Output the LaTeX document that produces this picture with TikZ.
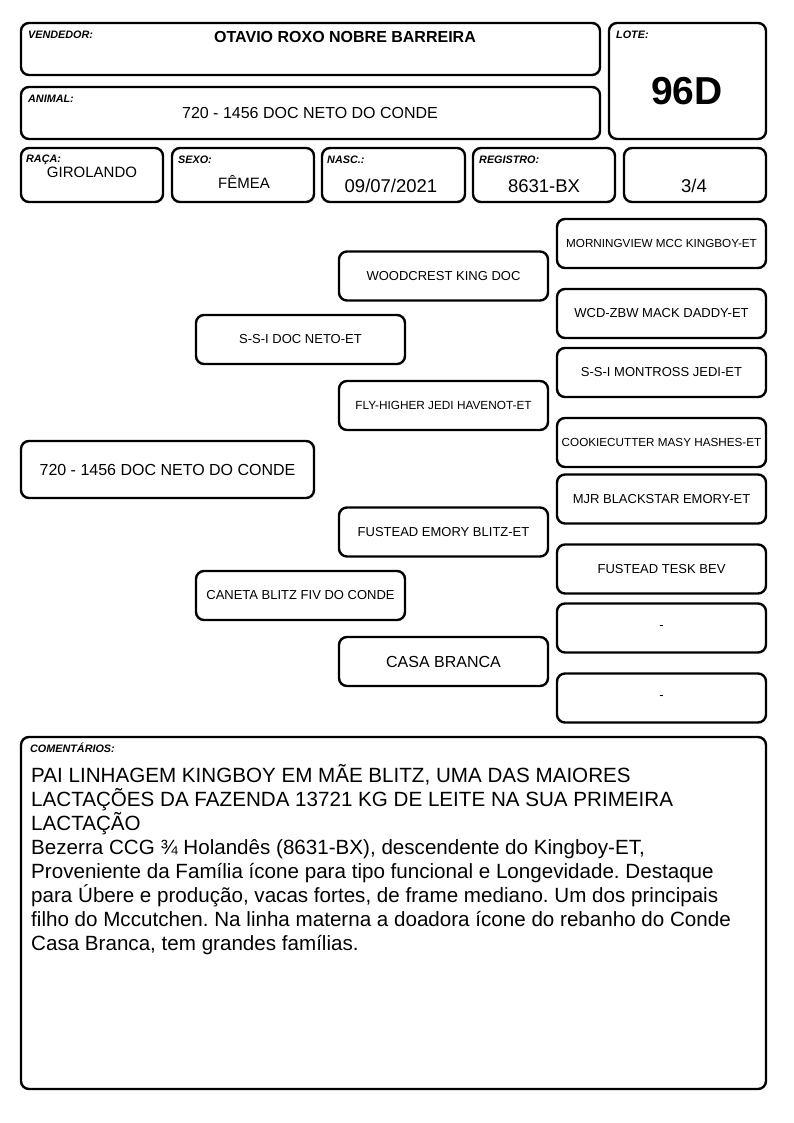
\documentclass[tikz,border=0pt]{standalone}
\usepackage{fontspec}
\setmainfont{Liberation Sans}
\newcommand{\fs}[1]{\fontsize{#1}{#1}\selectfont}
\newcommand{\tightlines}{\lineskiplimit=-100pt\relax\lineskip=0pt\relax}
\begin{document}
\begin{tikzpicture}[x=1pt,y=-1pt,
  box/.style={draw=black,line width=2.4pt,rounded corners=8pt,fill=white,inner sep=0pt,align=center},
  ped/.style={box,minimum width=209pt,minimum height=49pt,font=\fs{13}},
  lbl/.style={anchor=base west,inner sep=0pt,font=\fs{10.8}\bfseries\itshape},
  val/.style={inner sep=0pt,anchor=base}]
\useasboundingbox (0,0) rectangle (794,1123);
\fill[white] (0,0) rectangle (794,1123);
% header boxes
\node[box,minimum width=579pt,minimum height=52pt] (vend) at (310.5,49) {};
\node[box,minimum width=579pt,minimum height=52pt] (anim) at (310.5,113) {};
\node[box,minimum width=157pt,minimum height=116pt] (lote) at (687.5,81) {};
\node[box,minimum width=142pt,minimum height=54pt] (raca) at (92,175) {};
\node[box,minimum width=142pt,minimum height=54pt] (sexo) at (243,175) {};
\node[box,minimum width=143pt,minimum height=54pt] (nasc) at (393.5,175) {};
\node[box,minimum width=142pt,minimum height=54pt] (reg) at (544,175) {};
\node[box,minimum width=142pt,minimum height=54pt] (frac) at (695,175) {};
% labels
\node[lbl] (lvend) at (28,38.5) {VENDEDOR:};
\node[lbl] (lanim) at (28,102.5) {ANIMAL:};
\node[lbl] (llote) at (616,39) {LOTE:};
\node[lbl] (lraca) at (26,163) {RAÇA:};
\node[lbl] (lsexo) at (178,164) {SEXO:};
\node[lbl] (lnasc) at (327,164) {NASC.:};
\node[lbl] (lreg) at (479,164) {REGISTRO:};
% values
\node[val,font=\fs{16}\bfseries] (tvend) at (345,43) {OTAVIO ROXO NOBRE BARREIRA};
\node[val,font=\fs{16}] (tanim) at (310,119) {720 - 1456 DOC NETO DO CONDE};
\node[val,font=\fs{39}\bfseries] (tlote) at (687,105) {96D};
\node[val,font=\fs{15}] (traca) at (92,178) {GIROLANDO};
\node[val,font=\fs{15}] (tsexo) at (244,189) {FÊMEA};
\node[val,font=\fs{18.5}] (tnasc) at (391,193) {09/07/2021};
\node[val,font=\fs{18.5}] (treg) at (544,193) {8631-BX};
\node[val,font=\fs{18.5}] (tfrac) at (694,193) {3/4};
% pedigree
\node[box,minimum width=293pt,minimum height=57pt,font=\fs{16}] (main) at (167.5,469.5) {720 - 1456 DOC NETO DO CONDE};
\node[ped] (sire) at (300.5,339.5) {S-S-I DOC NETO-ET};
\node[ped] (dam) at (300.5,595.5) {CANETA BLITZ FIV DO CONDE};
\node[ped] (ss) at (443.5,276) {WOODCREST KING DOC};
\node[ped,font=\fs{11.8}] (sd) at (443.5,405.5) {FLY-HIGHER JEDI HAVENOT-ET};
\node[ped] (ds) at (443.5,532) {FUSTEAD EMORY BLITZ-ET};
\node[ped,font=\fs{16}] (dd) at (443.5,661.5) {CASA BRANCA};
\node[ped,font=\fs{11.7}] (sss) at (661.5,243.5) {MORNINGVIEW MCC KINGBOY-ET};
\node[ped] (ssd) at (661.5,313.5) {WCD-ZBW MACK DADDY-ET};
\node[ped] (sds) at (661.5,372.5) {S-S-I MONTROSS JEDI-ET};
\node[ped,font=\fs{11.7}] (sdd) at (661.5,442.5) {COOKIECUTTER MASY HASHES-ET};
\node[ped] (dss) at (661.5,499) {MJR BLACKSTAR EMORY-ET};
\node[ped] (dsd) at (661.5,569) {FUSTEAD TESK BEV};
\node[ped] (dds) at (661.5,628) {-};
\node[ped] (ddd) at (661.5,698) {-};
% comments
\node[box,minimum width=745pt,minimum height=352pt] (com) at (393.5,913) {};
\node[lbl,font=\fs{10.8}\bfseries\itshape] (lcom) at (30,752) {COMENTÁRIOS:};
\node[anchor=north west,inner sep=0pt,align=left,font=\fontsize{20.6}{24}\selectfont\frenchspacing\tightlines] (tcom) at (31,764.2) {\strut PAI LINHAGEM KINGBOY EM MÃE BLITZ, UMA DAS MAIORES\\
LACTAÇÕES DA FAZENDA 13721 KG DE LEITE NA SUA PRIMEIRA\\
LACTAÇÃO\\
Bezerra CCG ¾ Holandês (8631-BX), descendente do Kingboy-ET,\\
Proveniente da Família ícone para tipo funcional e Longevidade. Destaque\\
para Úbere e produção, vacas fortes, de frame mediano. Um dos principais\\
filho do Mccutchen. Na linha materna a doadora ícone do rebanho do Conde\\
Casa Branca, tem grandes famílias.};
\end{tikzpicture}
\end{document}
